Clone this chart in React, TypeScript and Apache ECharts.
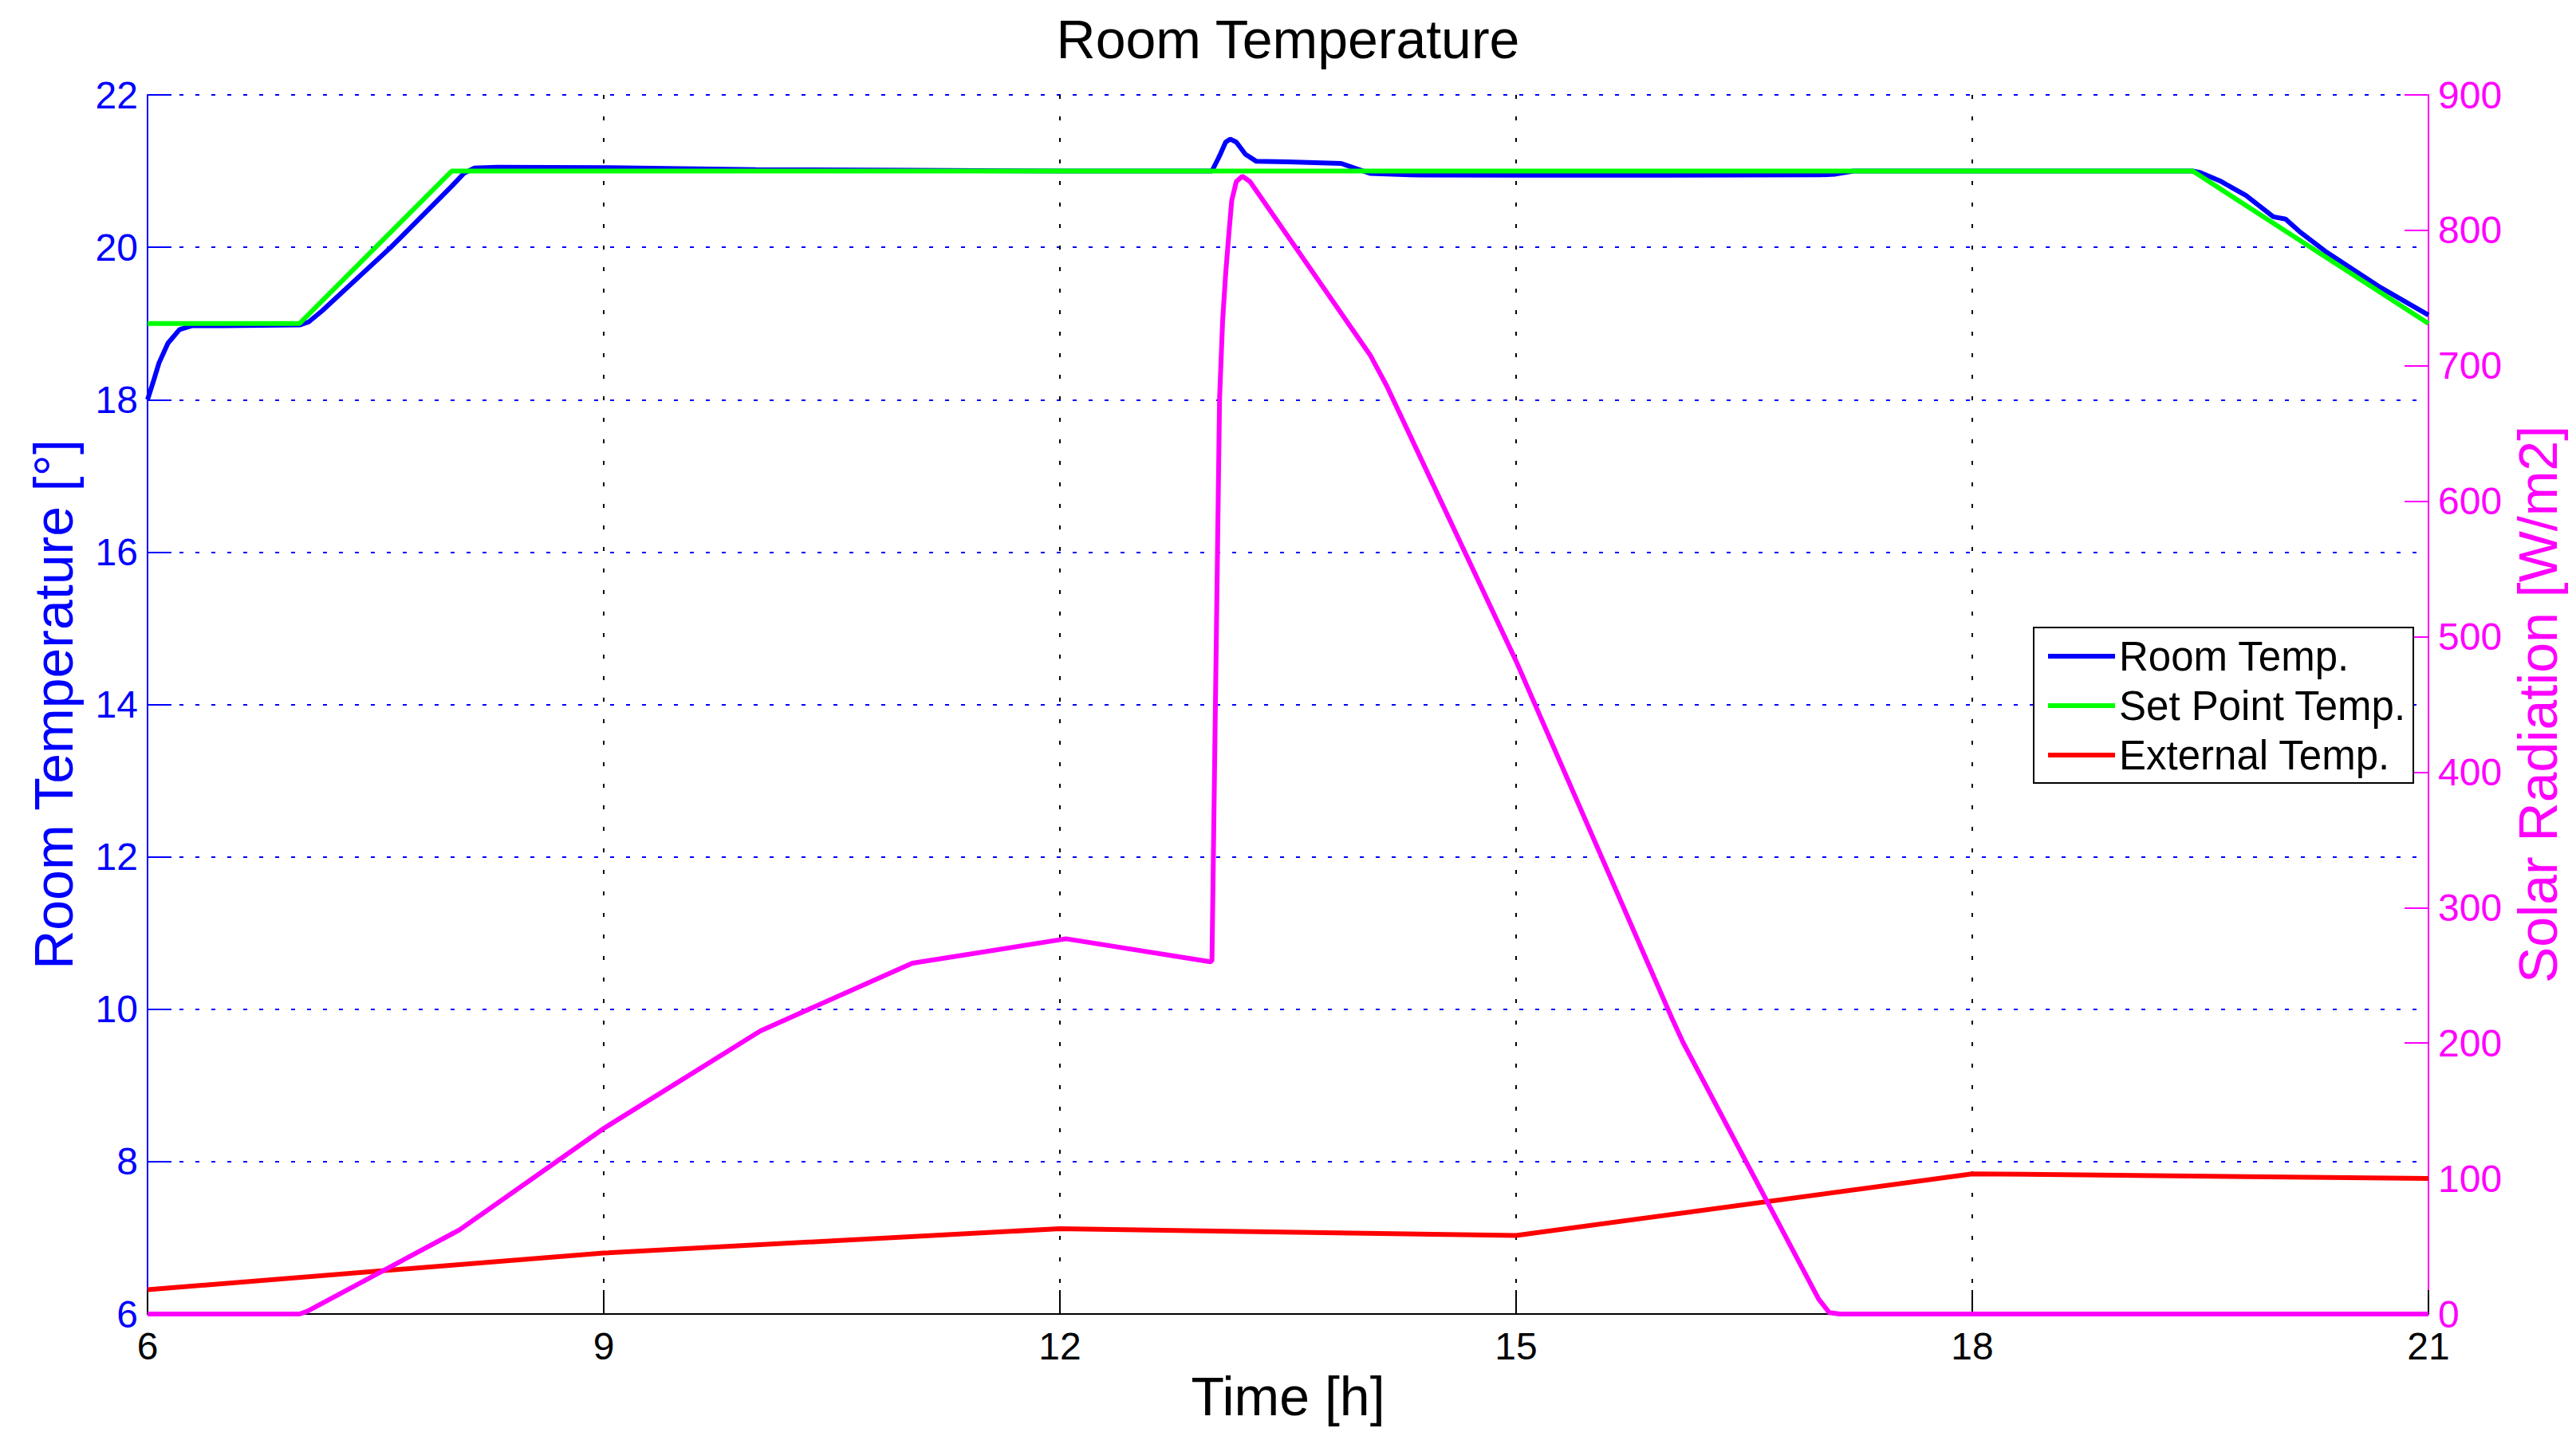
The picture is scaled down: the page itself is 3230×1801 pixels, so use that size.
import React, { useEffect, useRef } from 'react';
import * as echarts from 'echarts';

// Room temperature (blue), hours / degrees
const roomTime = [6, 6.04, 6.075, 6.134, 6.21, 6.29, 6.5, 7.0, 7.06, 7.15, 7.6, 8.0, 8.08, 8.15, 8.3, 9, 10, 11, 12, 13.0, 13.05, 13.09, 13.12, 13.16, 13.22, 13.29, 13.5, 13.85, 13.95, 14.04, 14.3, 15, 16, 17, 17.1, 17.22, 19.45, 19.5, 19.63, 19.8, 19.98, 20.06, 20.15, 20.32, 20.67, 21];
const roomTemp = [18.0, 18.25, 18.48, 18.74, 18.92, 18.97, 18.97, 18.98, 19.02, 19.17, 20.0, 20.8, 20.97, 21.04, 21.05, 21.045, 21.02, 21.01, 21.0, 21.0, 21.2, 21.38, 21.42, 21.38, 21.22, 21.13, 21.12, 21.1, 21.03, 20.97, 20.95, 20.945, 20.945, 20.95, 20.96, 21.0, 21.0, 20.98, 20.87, 20.68, 20.4, 20.37, 20.21, 19.95, 19.49, 19.11];

// Set point (green)
const setTime = [6, 7, 8, 19.45, 21];
const setTemp = [19, 19, 21, 21, 19];

// External temperature (red)
const extTime = [6, 9, 12, 15, 18, 21];
const extTemp = [6.32, 6.8, 7.12, 7.03, 7.84, 7.78];

// Solar radiation (magenta), W/m2 on the right axis
const solarTime = [6, 7.0, 7.05, 8.0, 8.05, 9.0, 10.03, 11.03, 12.04, 12.99, 13.0, 13.05, 13.07, 13.09, 13.11, 13.13, 13.16, 13.2, 13.25, 14.04, 14.15, 15.0, 16.03, 16.1, 16.99, 17.06, 17.13, 21];
const solarRad = [0, 0, 2, 59, 62, 137, 209, 259, 277, 260, 261, 676, 733, 768, 796, 822, 836, 840, 836, 708, 685, 482, 217, 200, 11, 1, 0, 0];

const FONT = "'Liberation Sans', Arial, Helvetica, sans-serif";
const BLUE = '#0000FF';
const GREEN = '#00FF00';
const RED = '#FF0000';
const MAGENTA = '#FF00FF';

const pairs = (xs: number[], ys: number[]) => xs.map((x, i) => [x, ys[i]]);

const App: React.FC = () => {
  const chartRef = useRef<HTMLDivElement>(null);

  useEffect(() => {
    if (!chartRef.current) return;
    const chart = echarts.init(chartRef.current, null, { renderer: 'svg' });

    const option: any = {
      backgroundColor: '#ffffff',
      animation: false,
      textStyle: { fontFamily: FONT },
      title: {
        text: 'Room Temperature',
        left: 'center',
        top: 10,
        textStyle: { fontFamily: FONT, fontSize: 68, fontWeight: 'normal', color: '#000' }
      },
      grid: { left: 185, right: 185, top: 119, bottom: 153 },
      legend: {
        orient: 'vertical',
        left: 2550,
        top: 787,
        data: ['Room Temp.', 'Set Point Temp.', 'External Temp.'],
        icon: 'rect',
        itemWidth: 84,
        itemHeight: 6,
        itemGap: 10,
        padding: [10, 9, 9, 18],
        borderColor: '#000',
        borderWidth: 2,
        borderRadius: 0,
        backgroundColor: '#fff',
        selectedMode: false,
        textStyle: { fontFamily: FONT, fontSize: 51, lineHeight: 52, color: '#000' }
      },
      xAxis: {
        type: 'value',
        min: 6,
        max: 21,
        interval: 3,
        name: 'Time [h]',
        nameLocation: 'middle',
        nameGap: 66,
        nameTextStyle: { fontFamily: FONT, fontSize: 68, color: '#000' },
        axisLine: { show: true, lineStyle: { color: '#000', width: 2 } },
        axisTick: { show: true, inside: true, length: 30, lineStyle: { color: '#000', width: 2 } },
        axisLabel: { fontFamily: FONT, fontSize: 48, lineHeight: 36, color: '#000', margin: 22 },
        splitLine: { show: true, lineStyle: { color: '#000', width: 2, type: [5, 22] } }
      },
      yAxis: [
        {
          type: 'value',
          position: 'left',
          min: 6,
          max: 22,
          interval: 2,
          name: 'Room Temperature [°]',
          nameLocation: 'middle',
          nameRotate: 90,
          nameGap: 84,
          nameTextStyle: { fontFamily: FONT, fontSize: 68, color: BLUE },
          axisLine: { show: true, lineStyle: { color: BLUE, width: 2 } },
          axisTick: { show: true, inside: true, length: 30, lineStyle: { color: BLUE, width: 2 } },
          axisLabel: { fontFamily: FONT, fontSize: 48, lineHeight: 36, color: BLUE, margin: 12 },
          splitLine: { show: true, lineStyle: { color: BLUE, width: 2, type: [5, 15] } }
        },
        {
          type: 'value',
          position: 'right',
          min: 0,
          max: 900,
          interval: 100,
          name: 'Solar Radiation [W/m2]',
          nameLocation: 'middle',
          nameRotate: 90,
          nameGap: 100,
          nameTextStyle: { fontFamily: FONT, fontSize: 68, color: MAGENTA },
          axisLine: { show: true, lineStyle: { color: MAGENTA, width: 2 } },
          axisTick: { show: true, inside: true, length: 30, lineStyle: { color: MAGENTA, width: 2 } },
          axisLabel: { fontFamily: FONT, fontSize: 48, lineHeight: 36, color: MAGENTA, margin: 12 },
          splitLine: { show: false }
        }
      ],
      series: [
        {
          name: 'Room Temp.',
          type: 'line',
          yAxisIndex: 0,
          symbol: 'none',
          data: pairs(roomTime, roomTemp),
          lineStyle: { color: BLUE, width: 6 },
          itemStyle: { color: BLUE }
        },
        {
          name: 'Set Point Temp.',
          type: 'line',
          yAxisIndex: 0,
          symbol: 'none',
          data: pairs(setTime, setTemp),
          lineStyle: { color: GREEN, width: 6 },
          itemStyle: { color: GREEN }
        },
        {
          name: 'External Temp.',
          type: 'line',
          yAxisIndex: 0,
          symbol: 'none',
          data: pairs(extTime, extTemp),
          lineStyle: { color: RED, width: 6 },
          itemStyle: { color: RED }
        },
        {
          name: 'Solar Radiation',
          type: 'line',
          yAxisIndex: 1,
          symbol: 'none',
          data: pairs(solarTime, solarRad),
          lineStyle: { color: MAGENTA, width: 6 },
          itemStyle: { color: MAGENTA }
        }
      ]
    };

    chart.setOption(option);

    const handleResize = () => chart.resize();
    window.addEventListener('resize', handleResize);
    return () => {
      window.removeEventListener('resize', handleResize);
      chart.dispose();
    };
  }, []);

  return (
    <div
      ref={chartRef}
      style={{ position: 'fixed', left: 0, top: 0, width: '100vw', height: '100vh', background: '#fff' }}
    />
  );
};

export default App;
